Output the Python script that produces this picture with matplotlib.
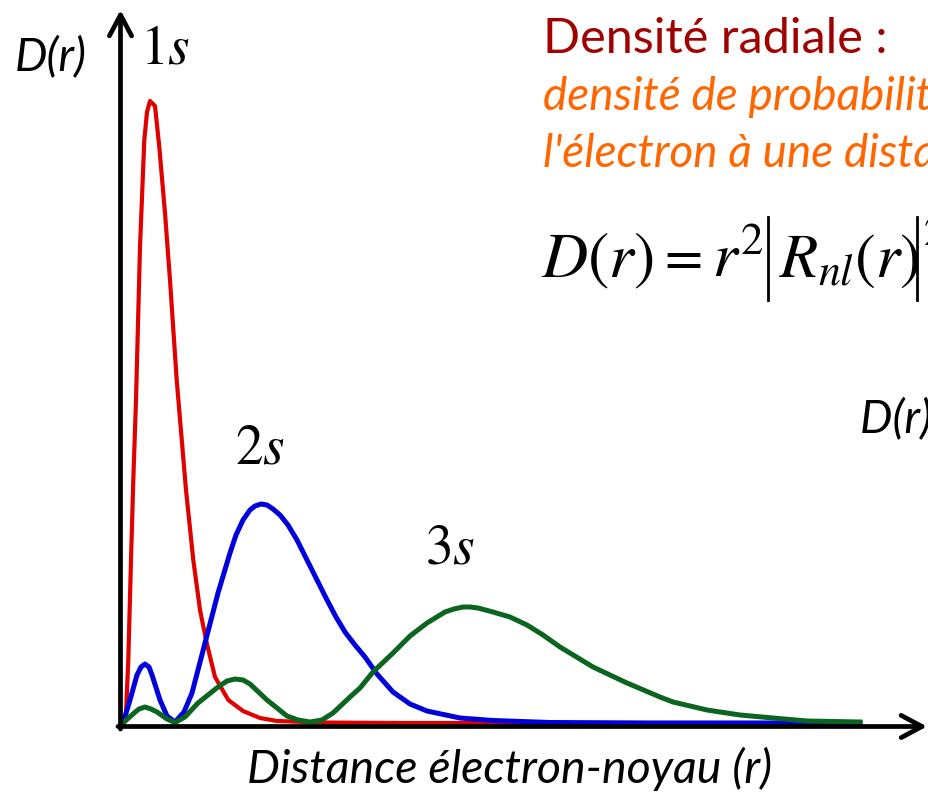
import matplotlib.pyplot as plt

plt.rcParams['mathtext.fontset'] = 'stix'

# Courbes (r et D(r) en unités arbitraires)
r_1s = [0, 2.7, 5.3, 8, 10.3, 13, 17, 21.3, 24, 27, 32, 36.3, 42, 47, 53.7, 63,
        70.3, 77, 83.7, 92, 105.3, 120, 137, 154, 197, 277, 737]
d_1s = [0, 3, 63, 163, 243, 323, 476, 583, 611, 622, 617, 576, 510, 443, 343, 233,
        163, 113, 80, 46, 23, 12, 5, 2, 0.5, 0, 0]

r_2s = [0, 7, 14, 18, 22, 26, 29, 37, 44, 52, 61, 69, 82, 95, 107, 113, 120, 127,
        132, 138, 144, 150, 157, 165, 174, 183, 193, 203, 213, 222, 232, 242, 254,
        270, 287, 304, 337, 370, 427, 527, 737]
d_2s = [0, 23, 48, 56, 59, 56, 48, 23, 7, 1, 11, 30, 80, 130, 170, 188, 203, 213,
        217, 219, 218, 214, 208, 198, 183, 165, 145, 125, 106, 91, 78, 66, 49,
        31, 19, 12, 5, 2.5, 0.5, 0, 0]

r_3s = [0, 10, 16, 22, 28, 34, 44, 52, 62, 75, 95, 104, 112, 120, 127, 144, 164,
        175, 187, 199, 210, 227, 237, 250, 270, 287, 304, 322, 331, 340, 347, 355,
        370, 387, 404, 420, 437, 470, 504, 537, 550, 584, 617, 650, 684, 737]
d_3s = [0, 9, 14, 16, 14, 11, 4, 0.5, 6, 20, 36, 42, 44, 43, 39, 23, 7,
        3, 1, 3, 10, 26, 35, 51, 70, 87, 100, 111, 114, 116, 116, 115,
        111, 106, 98, 88, 76, 56, 40, 26, 21, 13, 8, 5, 2, 1]

fig = plt.figure(figsize=(9.29, 7.93), dpi=100)
ax = fig.add_axes([0, 0, 1, 1])
ax.set_xlim(-123, 806)
ax.set_ylim(-70, 723)
ax.axis('off')

# courbes
ax.plot(r_1s, d_1s, color='#E00000', lw=3.0, solid_joinstyle='round', zorder=3)
ax.plot(r_2s, d_2s, color='#0000DD', lw=3.6, solid_joinstyle='round', zorder=3)
ax.plot(r_3s, d_3s, color='#0B6420', lw=3.6, solid_joinstyle='round', zorder=3)

# axes avec flèches
arrow = dict(arrowstyle='->,head_length=0.75,head_width=0.4', lw=3.4, color='black',
             mutation_scale=20, shrinkA=0, shrinkB=0)
ax.annotate('', xy=(-2.5, 713), xytext=(-2.5, -6), arrowprops=arrow)
ax.annotate('', xy=(804, -3.5), xytext=(-5, -3.5), arrowprops=arrow)

# textes
sans = 'Lato'
ax.text(-72, 653, 'D(r)', family=sans, style='italic', size=33, ha='center', va='baseline')
ax.text(17, 660, '$1s$', size=40, ha='left', va='baseline')
ax.text(112, 260, '$2s$', size=40, ha='left', va='baseline')
ax.text(302, 160, '$3s$', size=40, ha='left', va='baseline')

ax.text(420, 670, 'Densité radiale :', family=sans, size=35, color='#A00000',
        ha='left', va='baseline')
ax.text(420, 613, 'densité de probabilité de présence de', family=sans, style='italic',
        size=33, color='#FF6600', ha='left', va='baseline')
ax.text(420, 556, "l'électron à une distance r du noyau", family=sans, style='italic',
        size=33, color='#FF6600', ha='left', va='baseline')

# formule D(r) = r^2 |R_nl(r)|^2
ax.text(418, 446, r'$D(r)$', size=46, ha='left', va='baseline')
ax.text(541, 448, '=', family='STIXGeneral', size=40, ha='left', va='baseline')
ax.text(589, 446, r'$r^2$', size=46, ha='left', va='baseline')
ax.plot([645, 645], [423, 506], color='black', lw=2.0)
ax.text(656, 446, r'$R_{nl}(r)$', size=45, ha='left', va='baseline')
ax.plot([794, 794], [423, 506], color='black', lw=2.0)
ax.text(800, 478, '$2$', size=30, ha='left', va='baseline')

ax.text(737, 291, 'D(r) = r²', family=sans, style='italic', size=33,
        ha='left', va='baseline')

ax.text(387, -60, 'Distance électron-noyau (r)', family=sans, style='italic', size=33.5,
        ha='center', va='baseline')

plt.savefig('out.png', dpi=100)
